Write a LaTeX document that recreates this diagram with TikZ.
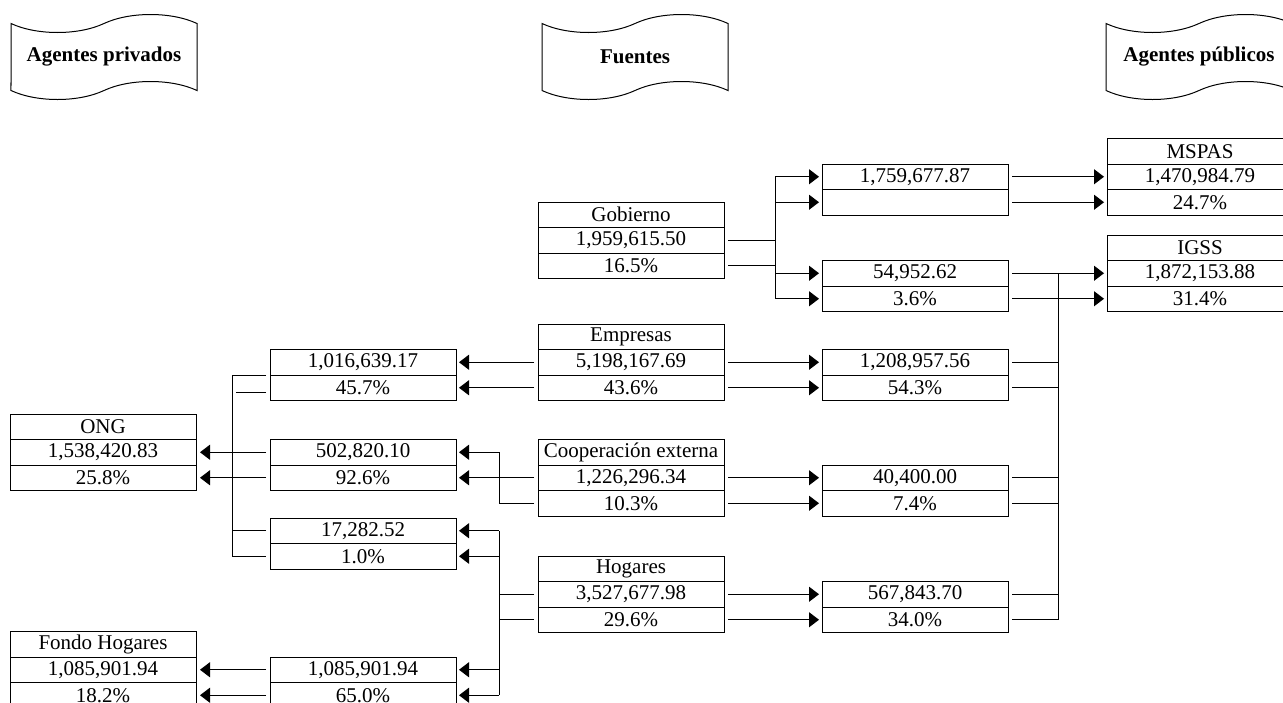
\documentclass[tikz,border=0pt]{standalone}
\usepackage{fontspec}
\setmainfont{Liberation Serif}
\usetikzlibrary{positioning,calc,arrows.meta,shapes.symbols}

\begin{document}
\begin{tikzpicture}[x=0.5pt,y=-0.5pt,line width=0.5pt,
  cell/.style={draw,minimum width=93pt,minimum height=12.75pt,inner sep=0pt,outer sep=0pt,font=\fontsize{10.5}{12}\selectfont},
  banner/.style={draw,tape,minimum width=93pt,minimum height=42.5pt,tape bend height=9pt,inner sep=0pt,font=\bfseries\fontsize{10.5}{12}\selectfont},
  flow/.style={-{Triangle[length=5pt,width=7.5pt]}}]

\useasboundingbox (0,0) rectangle (1283,702);
\clip (0,0) rectangle (1283,702);

% headers
\node at (104,57) [banner] (priv) {Agentes privados};
\node at (635,57) [banner] (fuen) {Fuentes};
\node at (1199,57) [banner] (publ) {Agentes públicos};

% agentes privados
\node at (103,426.75) [cell] (ong1) {ONG};
\node [cell,below=0pt of ong1] (ong2) {1,538,420.83};
\node [cell,below=0pt of ong2] (ong3) {25.8\%};
\node at (103,644.25) [cell] (fon1) {Fondo Hogares};
\node [cell,below=0pt of fon1] (fon2) {1,085,901.94};
\node [cell,below=0pt of fon2] (fon3) {18.2\%};

\node at (363,362.25) [cell] (empL1) {1,016,639.17};
\node [cell,below=0pt of empL1] (empL2) {45.7\%};
\node at (363,452.25) [cell] (cooL1) {502,820.10};
\node [cell,below=0pt of cooL1] (cooL2) {92.6\%};
\node at (363,530.75) [cell] (hogL1) {17,282.52};
\node [cell,below=0pt of hogL1] (hogL2) {1.0\%};
\node at (363,669.75) [cell] (hogF1) {1,085,901.94};
\node [cell,below=0pt of hogF1] (hogF2) {65.0\%};

% fuentes
\node at (631,214.75) [cell] (gob1) {Gobierno};
\node [cell,below=0pt of gob1] (gob2) {1,959,615.50};
\node [cell,below=0pt of gob2] (gob3) {16.5\%};
\node at (631,336.75) [cell] (emp1) {Empresas};
\node [cell,below=0pt of emp1] (emp2) {5,198,167.69};
\node [cell,below=0pt of emp2] (emp3) {43.6\%};
\node at (631,452.25) [cell] (coo1) {Cooperación externa};
\node [cell,below=0pt of coo1] (coo2) {1,226,296.34};
\node [cell,below=0pt of coo2] (coo3) {10.3\%};
\node at (631,568.75) [cell] (hog1) {Hogares};
\node [cell,below=0pt of hog1] (hog2) {3,527,677.98};
\node [cell,below=0pt of hog2] (hog3) {29.6\%};

% agentes publicos
\node at (915,176.75) [cell] (gobA1) {1,759,677.87};
\node [cell,below=0pt of gobA1] (gobA2) {};
\node at (915,273.25) [cell] (gobB1) {54,952.62};
\node [cell,below=0pt of gobB1] (gobB2) {3.6\%};
\node at (915,362.25) [cell] (empR1) {1,208,957.56};
\node [cell,below=0pt of empR1] (empR2) {54.3\%};
\node at (915,477.75) [cell] (cooR1) {40,400.00};
\node [cell,below=0pt of cooR1] (cooR2) {7.4\%};
\node at (915,594.25) [cell] (hogR1) {567,843.70};
\node [cell,below=0pt of hogR1] (hogR2) {34.0\%};

\node at (1200,151.25) [cell] (msp1) {MSPAS};
\node [cell,below=0pt of msp1] (msp2) {1,470,984.79};
\node [cell,below=0pt of msp2] (msp3) {24.7\%};
\node at (1200,247.75) [cell] (igss1) {IGSS};
\node [cell,below=0pt of igss1] (igss2) {1,872,153.88};
\node [cell,below=0pt of igss2] (igss3) {31.4\%};

% buses
\coordinate (lbus) at (232,0);
\coordinate (cbus) at (499,0);
\coordinate (gbus) at (775,0);
\coordinate (rbus) at (1058,0);

% gobierno
\draw ($(gob2.east)+(4,0)$) -- (gbus |- gob2.east)
      ($(gob3.east)+(4,0)$) -- (gbus |- gob3.east)
      (gbus |- gobA1.west) -- (gbus |- gobB2.west);
\foreach \n in {gobA1,gobA2,gobB1,gobB2}
  \draw[flow] (gbus |- \n.west) -- ($(\n.west)+(-3,0)$);
\foreach \a/\b in {gobA1/msp2,gobA2/msp3,gobB1/igss2,gobB2/igss3}
  \draw[flow] ($(\a.east)+(4,0)$) -- ($(\b.west)+(-3,0)$);

% hacia la derecha
\foreach \a/\b in {emp2/empR1,emp3/empR2,coo2/cooR1,coo3/cooR2,hog2/hogR1,hog3/hogR2}
  \draw[flow] ($(\a.east)+(4,0)$) -- ($(\b.west)+(-3,0)$);
\draw (rbus |- gobB1.east) -- (rbus |- hogR2.east);
\foreach \n in {empR1,empR2,cooR1,cooR2,hogR1,hogR2}
  \draw ($(\n.east)+(4,0)$) -- (rbus |- \n.east);

% hacia la izquierda
\foreach \a/\b in {emp2/empL1,emp3/empL2,coo2/cooL2}
  \draw[flow] ($(\a.west)+(-4,0)$) -- ($(\b.east)+(3,0)$);
\draw[flow] ($(coo3.west)+(-4,0)$) -- (cbus |- coo3.west) -- (cbus |- cooL1.east) -- ($(cooL1.east)+(3,0)$);
\draw ($(hog2.west)+(-4,0)$) -- (cbus |- hog2.west)
      ($(hog3.west)+(-4,0)$) -- (cbus |- hog3.west)
      (cbus |- hogL1.east) -- (cbus |- hogF2.east);
\foreach \n in {hogL1,hogL2,hogF1,hogF2}
  \draw[flow] (cbus |- \n.east) -- ($(\n.east)+(3,0)$);

% agentes privados
\draw ($(empL2.north west)+(-4,0)$) -- (lbus |- empL2.north west) -- (lbus |- hogL2.west) -- ($(hogL2.west)+(-4,0)$)
      ($(empL2.west)+(-4,5)$) -- ++(-30,0)
      ($(hogL1.west)+(-4,0)$) -- (lbus |- hogL1.west);
\foreach \a/\b in {cooL1/ong2,cooL2/ong3,hogF1/fon2,hogF2/fon3}
  \draw[flow] ($(\a.west)+(-4,0)$) -- ($(\b.east)+(4,0)$);

\end{tikzpicture}
\end{document}
